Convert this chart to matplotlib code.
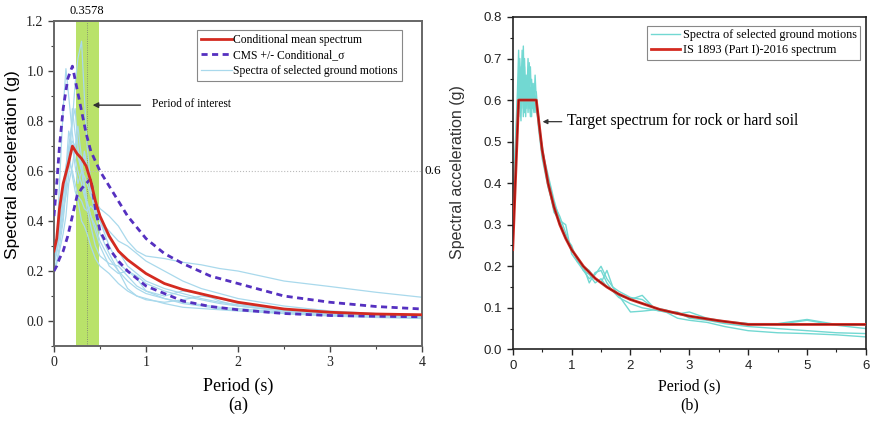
import matplotlib
matplotlib.use("Agg")
import matplotlib.pyplot as plt
from matplotlib.ticker import MultipleLocator, FormatStrFormatter

# ---------------- Data: panel (a) ----------------
cms_period = [0, 0.03, 0.06, 0.1, 0.15, 0.2, 0.25, 0.3, 0.35, 0.4, 0.45, 0.5, 0.6, 0.7, 0.8,
              1.0, 1.2, 1.4, 1.7, 2.0, 2.5, 3.0, 3.5, 4.0]
cms_mean = [0.28, 0.33, 0.45, 0.55, 0.62, 0.70, 0.67, 0.65, 0.62, 0.56, 0.48, 0.42, 0.34, 0.28, 0.245,
            0.19, 0.15, 0.126, 0.10, 0.075, 0.048, 0.035, 0.028, 0.025]
cms_upper = [0.42, 0.55, 0.70, 0.85, 0.97, 1.02, 0.93, 0.84, 0.75, 0.68, 0.64, 0.60, 0.54, 0.48, 0.42,
             0.33, 0.27, 0.23, 0.18, 0.15, 0.10, 0.075, 0.058, 0.048]
cms_lower = [0.20, 0.22, 0.25, 0.28, 0.34, 0.42, 0.50, 0.53, 0.55, 0.57, 0.45, 0.36, 0.29, 0.24, 0.20,
             0.14, 0.11, 0.08, 0.058, 0.045, 0.03, 0.022, 0.019, 0.017]

gm_period = [0, 0.03, 0.06, 0.1, 0.13, 0.16, 0.2, 0.23, 0.26, 0.3, 0.33, 0.36, 0.4, 0.45, 0.5,
             0.6, 0.7, 0.8, 0.9, 1.0, 1.2, 1.4, 1.6, 1.8, 2.0, 2.5, 3.0, 3.5, 4.0]
gm_a1 = [0.25, 0.3, 0.38, 0.5, 0.6, 0.7, 0.8, 0.95, 1.05, 1.12, 0.9, 0.7, 0.55, 0.45, 0.4,
         0.33, 0.28, 0.22, 0.19, 0.16, 0.13, 0.11, 0.09, 0.075, 0.065, 0.045, 0.03, 0.022, 0.018]
gm_a2 = [0.22, 0.3, 0.55, 0.85, 1.01, 0.9, 0.75, 0.65, 0.6, 0.55, 0.5, 0.47, 0.42, 0.38, 0.32,
         0.25, 0.2, 0.16, 0.13, 0.11, 0.09, 0.07, 0.06, 0.05, 0.045, 0.03, 0.022, 0.017, 0.014]
gm_a3 = [0.27, 0.32, 0.45, 0.55, 0.62, 0.68, 0.72, 0.7, 0.66, 0.6, 0.58, 0.55, 0.5, 0.48, 0.45,
         0.42, 0.38, 0.32, 0.28, 0.26, 0.25, 0.235, 0.225, 0.21, 0.2, 0.16, 0.138, 0.115, 0.095]
gm_a4 = [0.24, 0.28, 0.35, 0.45, 0.5, 0.58, 0.85, 0.75, 0.68, 0.62, 0.66, 0.6, 0.52, 0.46, 0.4,
         0.3, 0.23, 0.2, 0.18, 0.15, 0.12, 0.1, 0.085, 0.07, 0.06, 0.04, 0.03, 0.024, 0.02]
gm_a5 = [0.2, 0.23, 0.28, 0.35, 0.42, 0.55, 0.62, 0.7, 0.78, 0.65, 0.55, 0.48, 0.42, 0.36, 0.3,
         0.22, 0.19, 0.2, 0.17, 0.12, 0.09, 0.075, 0.065, 0.055, 0.05, 0.035, 0.025, 0.018, 0.012]
gm_a6 = [0.26, 0.3, 0.4, 0.5, 0.58, 0.64, 0.6, 0.55, 0.5, 0.48, 0.45, 0.44, 0.46, 0.44, 0.4,
         0.36, 0.32, 0.3, 0.27, 0.24, 0.2, 0.16, 0.13, 0.11, 0.09, 0.06, 0.04, 0.03, 0.025]
gm_a7 = [0.21, 0.24, 0.3, 0.4, 0.52, 0.68, 0.58, 0.52, 0.48, 0.4, 0.38, 0.35, 0.3, 0.25, 0.22,
         0.19, 0.15, 0.12, 0.1, 0.09, 0.07, 0.055, 0.05, 0.045, 0.04, 0.03, 0.02, 0.014, 0.01]
gm_a8 = [0.23, 0.27, 0.35, 0.48, 0.6, 0.76, 0.7, 0.62, 0.55, 0.6, 0.68, 0.62, 0.52, 0.42, 0.35,
         0.27, 0.2, 0.13, 0.1, 0.085, 0.075, 0.085, 0.1, 0.09, 0.07, 0.045, 0.03, 0.02, 0.015]
gm_a9 = [0.25, 0.28, 0.33, 0.42, 0.55, 0.65, 0.8, 0.85, 0.7, 0.6, 0.52, 0.45, 0.38, 0.3, 0.26,
         0.23, 0.22, 0.18, 0.14, 0.12, 0.1, 0.12, 0.11, 0.08, 0.06, 0.04, 0.028, 0.02, 0.016]
gm_a_all = [gm_a1, gm_a2, gm_a3, gm_a4, gm_a5, gm_a6, gm_a7, gm_a8, gm_a9]

period_of_interest = 0.3578
band_lo, band_hi = 0.24, 0.49
ref_level = 0.6

# ---------------- Data: panel (b) ----------------
is_period = [0, 0.1, 0.4, 0.5, 0.6, 0.7, 0.8, 0.9, 1.0, 1.2, 1.4, 1.6, 1.8, 2.0, 2.5, 3.0, 3.5, 4.0, 5.0, 6.0]
is_sa = [0.24, 0.6, 0.6, 0.48, 0.40, 0.343, 0.30, 0.267, 0.24, 0.20, 0.171, 0.15, 0.133, 0.12,
         0.096, 0.08, 0.069, 0.06, 0.06, 0.06]

gm_b_period = [0, 0.02, 0.04, 0.06, 0.08, 0.10, 0.12, 0.14, 0.16, 0.18, 0.20, 0.22, 0.24, 0.26, 0.28,
               0.30, 0.32, 0.34, 0.36, 0.38, 0.40, 0.42, 0.44, 0.5, 0.6, 0.7, 0.8, 0.9, 1.0, 1.1,
               1.2, 1.3, 1.4, 1.5, 1.6, 1.7, 1.8, 2.0, 2.2, 2.4, 2.6, 2.8, 3.0, 3.3, 3.6, 4.0,
               4.5, 5.0, 5.5, 6.0]
gm_b1 = [0.25, 0.35, 0.48, 0.55, 0.62, 0.72, 0.58, 0.68, 0.60, 0.73, 0.57, 0.66, 0.60, 0.70, 0.58,
         0.63, 0.56, 0.62, 0.59, 0.66, 0.60, 0.57, 0.55, 0.47, 0.41, 0.35, 0.32, 0.28, 0.24, 0.22,
         0.19, 0.17, 0.18, 0.20, 0.17, 0.15, 0.13, 0.12, 0.13, 0.10, 0.09, 0.085, 0.09, 0.075, 0.068,
         0.062, 0.06, 0.07, 0.058, 0.05]
gm_b2 = [0.24, 0.33, 0.45, 0.52, 0.60, 0.56, 0.70, 0.62, 0.72, 0.58, 0.68, 0.56, 0.64, 0.59, 0.69,
         0.57, 0.61, 0.58, 0.64, 0.57, 0.62, 0.58, 0.54, 0.49, 0.40, 0.33, 0.31, 0.30, 0.23, 0.21,
         0.20, 0.16, 0.185, 0.19, 0.16, 0.14, 0.125, 0.11, 0.10, 0.095, 0.09, 0.09, 0.075, 0.07, 0.062,
         0.055, 0.05, 0.045, 0.04, 0.038]
gm_b3 = [0.25, 0.32, 0.42, 0.50, 0.52, 0.65, 0.60, 0.55, 0.66, 0.61, 0.57, 0.63, 0.58, 0.67, 0.62,
         0.56, 0.65, 0.60, 0.57, 0.61, 0.58, 0.56, 0.53, 0.46, 0.39, 0.34, 0.30, 0.27, 0.25, 0.21,
         0.19, 0.18, 0.16, 0.17, 0.15, 0.14, 0.13, 0.09, 0.092, 0.095, 0.09, 0.075, 0.07, 0.065, 0.055,
         0.045, 0.04, 0.038, 0.035, 0.03]
gm_b4 = [0.24, 0.34, 0.46, 0.53, 0.58, 0.62, 0.66, 0.59, 0.64, 0.56, 0.70, 0.60, 0.66, 0.57, 0.63,
         0.68, 0.59, 0.64, 0.61, 0.58, 0.60, 0.57, 0.56, 0.48, 0.42, 0.36, 0.31, 0.27, 0.24, 0.22,
         0.20, 0.19, 0.17, 0.16, 0.19, 0.15, 0.14, 0.125, 0.12, 0.10, 0.095, 0.085, 0.08, 0.072, 0.066,
         0.062, 0.062, 0.072, 0.06, 0.058]
gm_b_all = [gm_b1, gm_b2, gm_b3, gm_b4]

# ---------------- Styles ----------------
SERIF = ["Liberation Serif", "DejaVu Serif"]
SANS = ["Liberation Sans", "DejaVu Sans"]
RED = "#d42a20"
PURPLE = "#5530c0"
LBLUE = "#a9d9ec"
CYAN = "#72d8d2"
GREEN = "#b9e26a"

fig = plt.figure(figsize=(8.72, 4.24), dpi=100)

# ================= Panel (a) =================
ax1 = fig.add_axes([0.0619, 0.184, 0.4221, 0.766])
ax1.axvspan(band_lo, band_hi, color=GREEN, lw=0, zorder=0)
ax1.axvline(period_of_interest, color="#777777", lw=0.6, ls=":", zorder=1)
ax1.axhline(ref_level, color="#bbbbbb", lw=0.8, ls=":", zorder=1)

for i, s in enumerate(gm_a_all):
    ax1.plot(gm_period, s, color=LBLUE, lw=0.9, zorder=2,
             label="Spectra of selected ground motions" if i == 0 else None)
ax1.plot(cms_period, cms_mean, color=RED, lw=2.0, zorder=4, label="Conditional mean spectrum")
ax1.plot(cms_period, cms_upper, color=PURPLE, lw=2.0, ls=(0, (2.2, 1.6)), zorder=3,
         label="CMS +/- Conditional_σ")
ax1.plot(cms_period, cms_lower, color=PURPLE, lw=2.0, ls=(0, (2.2, 1.6)), zorder=3)

ax1.set_xlim(0, 4)
ax1.set_ylim(-0.1, 1.2)
ax1.xaxis.set_major_locator(MultipleLocator(1))
ax1.xaxis.set_minor_locator(MultipleLocator(0.5))
ax1.set_yticks([0.0, 0.2, 0.4, 0.6, 0.8, 1.0, 1.2])
ax1.yaxis.set_minor_locator(MultipleLocator(0.1))
ax1.yaxis.set_major_formatter(FormatStrFormatter("%.1f"))
ax1.tick_params(which="both", direction="out", colors="#444444", labelcolor="#222222")
ax1.tick_params(which="major", length=4, width=1.0, labelsize=10)
ax1.tick_params(which="minor", length=2.5, width=0.8)
for lab in ax1.get_xticklabels() + ax1.get_yticklabels():
    lab.set_family(SERIF)
for sp in ax1.spines.values():
    sp.set_color("#666666")
    sp.set_linewidth(1.4)

ax1.set_xlabel("Period (s)\n(a)", fontsize=13, family=SERIF, labelpad=6, linespacing=1.15)
ax1.set_ylabel("Spectral acceleration (g)", fontsize=12.5, family=SANS)
ax1.yaxis.set_label_coords(-0.092, 0.557)

ax1.text(period_of_interest, 1.215, "0.3578", ha="center", va="bottom", fontsize=9, family=SERIF)
ax1.text(4.03, ref_level, "0.6", ha="left", va="center", fontsize=9.5, family=SERIF)
ax1.annotate("", xy=(0.39, 0.864), xytext=(0.97, 0.864),
             arrowprops=dict(arrowstyle="-|>", color="#333333", lw=1.0, mutation_scale=8))
ax1.text(1.07, 0.87, "Period of interest", ha="left", va="center", fontsize=8.3, family=SERIF)

h, l = ax1.get_legend_handles_labels()
order = [l.index("Conditional mean spectrum"), l.index("CMS +/- Conditional_σ"),
         l.index("Spectra of selected ground motions")]
leg1 = ax1.legend([h[i] for i in order], [l[i] for i in order], loc="upper right",
                  bbox_to_anchor=(0.955, 0.985), prop={"family": SERIF, "size": 8.4},
                  fancybox=False, edgecolor="#888888", framealpha=1, handlelength=2.6,
                  borderpad=0.35, labelspacing=0.3, handletextpad=0.15, borderaxespad=0.3)
leg1.get_frame().set_linewidth(0.8)

# ================= Panel (b) =================
ax2 = fig.add_axes([0.588, 0.176, 0.405, 0.784])
for i, s in enumerate(gm_b_all):
    ax2.plot(gm_b_period, s, color=CYAN, lw=1.0, zorder=2,
             label="Spectra of selected ground motions" if i == 0 else None)
ax2.plot(is_period, is_sa, color=RED, lw=2.0, zorder=3, label="IS 1893 (Part I)-2016 spectrum")
ax2.plot(is_period, is_sa, color="#8a1010", lw=0.6, zorder=3)

ax2.set_xlim(0, 6)
ax2.set_ylim(0, 0.8)
ax2.xaxis.set_major_locator(MultipleLocator(1))
ax2.xaxis.set_minor_locator(MultipleLocator(0.5))
ax2.yaxis.set_major_locator(MultipleLocator(0.1))
ax2.yaxis.set_minor_locator(MultipleLocator(0.05))
ax2.yaxis.set_major_formatter(FormatStrFormatter("%.1f"))
ax2.tick_params(which="both", direction="out", colors="#222222")
ax2.tick_params(which="major", length=4, width=1.0, labelsize=9.5)
ax2.tick_params(which="minor", length=2.5, width=0.8)
for lab in ax2.get_xticklabels() + ax2.get_yticklabels():
    lab.set_family(SANS)
for sp in ax2.spines.values():
    sp.set_color("#222222")
    sp.set_linewidth(1.2)

ax2.set_xlabel("Period (s)\n(b)", fontsize=11.5, family=SERIF, labelpad=5, linespacing=1.2)
ax2.set_ylabel("Spectral acceleration (g)", fontsize=11.5, family=SANS, color="#333333")
ax2.yaxis.set_label_coords(-0.135, 0.534)

ax2.annotate("", xy=(0.46, 0.548), xytext=(0.88, 0.548),
             arrowprops=dict(arrowstyle="-|>", color="#333333", lw=0.9, mutation_scale=7))
ax2.text(0.93, 0.55, "Target spectrum for rock or hard soil", ha="left", va="center",
         fontsize=11.3, family=SERIF)

leg2 = ax2.legend(loc="upper right", bbox_to_anchor=(0.995, 0.985),
                  prop={"family": SERIF, "size": 8.8}, fancybox=False, edgecolor="#888888",
                  framealpha=1, handlelength=2.4, borderpad=0.3, labelspacing=0.25,
                  handletextpad=0.2, borderaxespad=0.3)
leg2.get_frame().set_linewidth(0.8)

fig.savefig("out.png", dpi=100)
